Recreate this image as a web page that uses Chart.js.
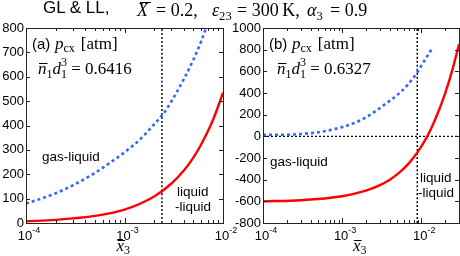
<!DOCTYPE html>
<html>
<head>
<meta charset="utf-8">
<script src="https://cdn.jsdelivr.net/npm/chart.js@4/dist/chart.umd.min.js"></script>
<style>
  body { margin: 0; background: #fff; }
  #wrap { position: relative; width: 460px; height: 256px; overflow: hidden; }
  canvas { position: absolute; top: 0; }
  .t { position: absolute; top: 0; white-space: nowrap; color: #000; line-height: 18px; font: 18px 'Liberation Serif', serif; }
  .t i { font-style: italic; }
  .rule { position: absolute; height: 1px; background: #000; }
  sub { font-size: 70%; vertical-align: -4px; line-height: 0; }
</style>
</head>
<body>
<div id="wrap">
  <canvas id="chartA" width="250" height="256" style="left:0"></canvas>
  <canvas id="chartB" width="230" height="256" style="left:230px"></canvas>
  <div class="t" style="left:43px;font:17px 'Liberation Sans',Arial,sans-serif;top:-2px">GL &amp; LL,</div>
  <div class="t" style="left:137px"><i>X</i></div>
  <div class="rule" style="left:140px;top:2px;width:11px"></div>
  <div class="t" style="left:156px">= 0.2,</div>
  <div class="t" style="left:212px"><i>ε</i><sub>23</sub></div>
  <div class="t" style="left:237px">= 300&thinsp;K,</div>
  <div class="t" style="left:307px"><i>α</i><sub>3</sub></div>
  <div class="t" style="left:330px">= 0.9</div>
</div>
<script>
// panel (a)
var xBlueA = [1e-4, 1.5e-4, 2e-4, 3e-4, 5e-4, 7e-4, 1e-3, 1.5e-3, 2e-3, 2.5e-3, 3e-3, 4e-3, 5e-3, 6e-3, 7e-3];
var blueA  = [80, 103, 122, 155, 205, 245, 290, 350, 405, 450, 500, 590, 670, 745, 820];
var xRedA  = [1e-4, 2e-4, 5e-4, 1e-3, 2e-3, 3e-3, 4e-3, 5e-3, 6e-3, 7e-3, 8e-3, 9e-3, 1e-2];
var redA   = [7, 13, 29, 55, 109, 162, 215, 268, 322, 375, 428, 482, 535];
var vlineA = 0.0024;
var yTicksA = [0, 100, 200, 300, 400, 500, 600, 700, 800];

// panel (b)
var xBlueB = [1e-4, 2e-4, 3e-4, 5e-4, 1e-3, 1.5e-3, 2e-3, 3.4e-3, 5.6e-3, 7e-3, 8.9e-3, 1.1e-2, 1.34e-2];
var blueB  = [15, 15, 22, 38, 85, 130, 175, 290, 415, 490, 590, 700, 800];
var xRedB  = [1e-4, 3e-4, 1e-3, 2e-3, 3e-3, 4e-3, 5e-3, 6e-3, 7e-3, 8.9e-3, 1.19e-2, 1.5e-2, 2e-2, 2.5e-2, 3e-2];
var redB   = [-600, -590, -553, -502, -451, -400, -349, -298, -247, -150, 0, 155, 395, 625, 850];
var vlineB = 0.0089;
var yTicksB = [-800, -600, -400, -200, 0, 200, 400, 600, 800, 1000];

var xMajors = [-4, -3, -2];   // exponents

var SANS = '"Liberation Sans", Arial, sans-serif';
var SERIF = '"Liberation Serif", serif';

function pts(xs, ys) {
    return xs.map(function (x, i) { return { x: x, y: ys[i] }; });
}

// draw text pieces one after another
function runs(ctx, x, y, parts) {
    parts.forEach(function (p) {
        ctx.font = p.f;
        var w = ctx.measureText(p.t).width;
        ctx.fillText(p.t, x, y + (p.dy || 0));
        if (p.bar) ctx.fillRect(x + p.bar, y - p.barY, w - p.bar + 1, 1);
        if (p.adv !== false) x += w + (p.gap || 0);
    });
}

var framePlugin = {
    id: 'frame',
    afterDraw: function (chart, args, o) {
        var ctx = chart.ctx, a = chart.chartArea;
        var xs = chart.scales.x, ys = chart.scales.y;
        ctx.save();
        ctx.strokeStyle = '#222';
        ctx.lineWidth = 1;
        ctx.strokeRect(Math.round(a.left) + 0.5, Math.round(a.top) + 0.5, Math.round(a.width), Math.round(a.height));
        ctx.beginPath();
        // y ticks both sides
        o.yTicks.forEach(function (v) {
            var py = Math.round(ys.getPixelForValue(v)) + 0.5;
            ctx.moveTo(a.left, py); ctx.lineTo(a.left + 4, py);
            ctx.moveTo(a.right, py); ctx.lineTo(a.right - 4, py);
        });
        // x ticks, majors and minors, top and bottom
        for (var e = -4; e <= -2; e++) {
            for (var m = 1; m <= 9; m++) {
                var v = m * Math.pow(10, e);
                if (v > xs.max * 1.0001) continue;
                var px = Math.round(xs.getPixelForValue(v)) + 0.5;
                var len = m === 1 ? 5 : 3;
                ctx.moveTo(px, a.bottom); ctx.lineTo(px, a.bottom - len);
                ctx.moveTo(px, a.top); ctx.lineTo(px, a.top + len);
            }
        }
        ctx.stroke();

        // tick labels
        ctx.fillStyle = '#000';
        ctx.font = '13px ' + SANS;
        ctx.textAlign = 'right';
        ctx.textBaseline = 'middle';
        o.yTicks.forEach(function (v) {
            ctx.fillText(String(v), a.left - 2, ys.getPixelForValue(v));
        });
        ctx.textBaseline = 'alphabetic';
        ctx.textAlign = 'left';
        xMajors.forEach(function (e) {
            var px = xs.getPixelForValue(Math.pow(10, e));
            ctx.font = '13px ' + SANS;
            var w = ctx.measureText('10').width;
            ctx.fillText('10', px - w / 2 - 1, 240);
            ctx.font = '9px ' + SANS;
            ctx.fillText(String(e), px + w / 2 - 1, 233);
        });

        // axis title
        var cx = (a.left + a.right) / 2;
        runs(ctx, cx - 8, 251, [
            { t: 'x', f: 'italic 17px ' + SERIF, bar: 1, barY: 11 },
            { t: '3', f: '12px ' + SERIF, dy: 3 }
        ]);

        // panel labels
        ctx.font = '15px ' + SANS;
        ctx.fillText(o.tag, o.tagX, 49);
        runs(ctx, o.tagX + 23, 49, [
            { t: 'p', f: 'italic 17px ' + SERIF },
            { t: 'cx', f: '12px ' + SERIF, dy: 3, gap: 6 },
            { t: '[atm]', f: '17px ' + SERIF }
        ]);
        runs(ctx, o.nX, 74, [
            { t: 'n', f: 'italic 17px ' + SERIF, bar: 1, barY: 11 },
            { t: '1', f: '12px ' + SERIF, dy: 4 },
            { t: 'd', f: 'italic 17px ' + SERIF },
            { t: '1', f: '12px ' + SERIF, dy: 4, adv: false },
            { t: '3', f: '12px ' + SERIF, dy: -8 },
            { t: ' = ' + o.n, f: '17px ' + SERIF }
        ]);

        ctx.font = '13.5px ' + SANS;
        ctx.textBaseline = 'middle';
        ctx.fillText('gas-liquid', o.gl[0], o.gl[1]);
        ctx.fillText('liquid', o.ll[0] + 2, o.ll[1]);
        ctx.fillText('-liquid', o.ll[0], o.ll[1] + 15);
        ctx.restore();
    }
};

function makeChart(id, cfg) {
    var ctx = document.getElementById(id).getContext('2d');
    return new Chart(ctx, {
        type: 'line',
        data: {
            datasets: [
                { data: pts(cfg.xBlue, cfg.blue), borderColor: '#3366ff', borderWidth: 2.6, borderDash: [3, 3] },
                { data: pts(cfg.xRed, cfg.red), borderColor: '#ff0000', borderWidth: 2.4 },
                { data: [{ x: cfg.vline, y: cfg.ymin }, { x: cfg.vline, y: cfg.ymax }], borderColor: '#000', borderWidth: 1.4, borderDash: [2, 2], tension: 0 }
            ].concat(cfg.zero ? [{ data: [{ x: cfg.xmin, y: 0 }, { x: cfg.xmax, y: 0 }], borderColor: '#000', borderWidth: 1.4, borderDash: [2, 2], tension: 0 }] : [])
        },
        options: {
            responsive: false,
            animation: false,
            events: [],
            layout: { padding: cfg.pad },
            elements: {
                point: { radius: 0 },
                line: { tension: 0.4, cubicInterpolationMode: 'monotone', fill: false }
            },
            scales: {
                x: { type: 'logarithmic', min: cfg.xmin, max: cfg.xmax, display: false },
                y: { type: 'linear', min: cfg.ymin, max: cfg.ymax, display: false }
            },
            plugins: {
                legend: { display: false },
                tooltip: { enabled: false },
                frame: cfg.frame
            }
        },
        plugins: [framePlugin]
    });
}

window.onload = function () {
    makeChart('chartA', {
        xBlue: xBlueA, blue: blueA, xRed: xRedA, red: redA, vline: vlineA,
        xmin: 1e-4, xmax: 1e-2, ymin: 0, ymax: 800, zero: false,
        pad: { left: 26, right: 27, top: 28, bottom: 33 },
        frame: { yTicks: yTicksA, tag: '(a)', tagX: 32, nX: 38, n: '0.6416', gl: [42, 157], ll: [175, 192] }
    });
    makeChart('chartB', {
        xBlue: xBlueB, blue: blueB, xRed: xRedB, red: redB, vline: vlineB,
        xmin: 1e-4, xmax: 3e-2, ymin: -800, ymax: 1000, zero: true,
        pad: { left: 33, right: 1, top: 28, bottom: 33 },
        frame: { yTicks: yTicksB, tag: '(b)', tagX: 39, nX: 47, n: '0.6327', gl: [40, 162], ll: [188, 178] }
    });
};
</script>
</body>
</html>
